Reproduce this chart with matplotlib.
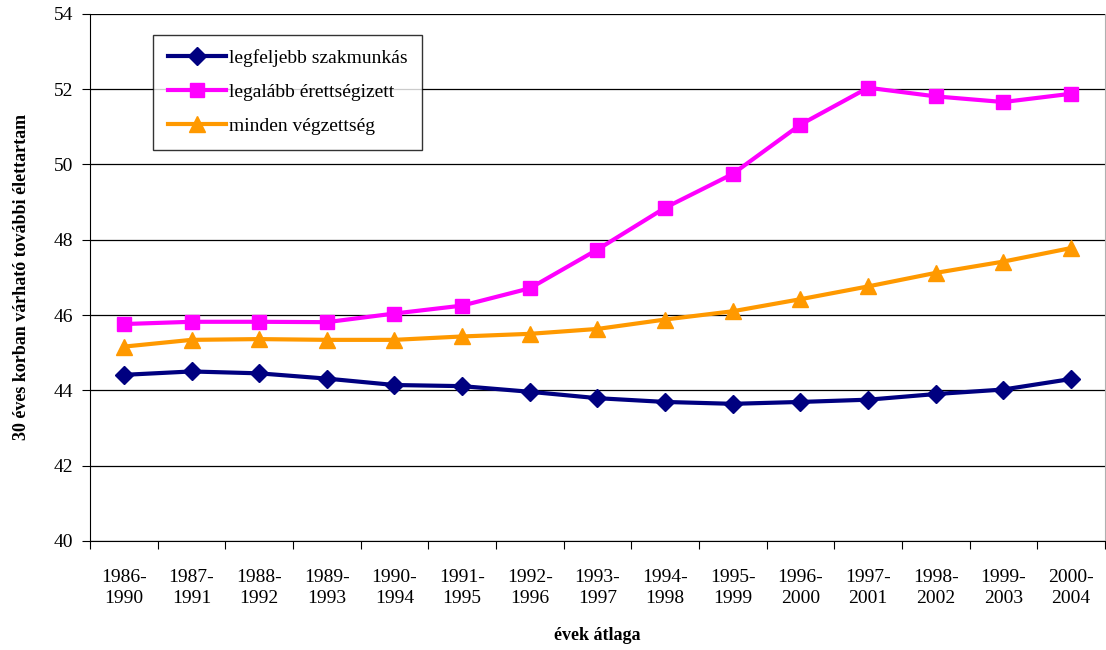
import matplotlib
matplotlib.use("Agg")
import matplotlib.pyplot as plt
import numpy as np

categories = ["1986-\n1990", "1987-\n1991", "1988-\n1992", "1989-\n1993", "1990-\n1994",
              "1991-\n1995", "1992-\n1996", "1993-\n1997", "1994-\n1998", "1995-\n1999",
              "1996-\n2000", "1997-\n2001", "1998-\n2002", "1999-\n2003", "2000-\n2004"]
szakmunkas = [44.41, 44.50, 44.45, 44.31, 44.14, 44.11, 43.96, 43.79, 43.69, 43.64,
              43.69, 43.75, 43.90, 44.02, 44.30]
erettsegi = [45.76, 45.82, 45.82, 45.81, 46.04, 46.25, 46.71, 47.74, 48.85, 49.75,
             51.06, 52.04, 51.81, 51.66, 51.88]
minden = [45.16, 45.34, 45.36, 45.34, 45.34, 45.43, 45.50, 45.63, 45.88, 46.10,
          46.42, 46.76, 47.12, 47.42, 47.78]

plt.rcParams["font.family"] = ["Liberation Serif", "DejaVu Serif"]

fig = plt.figure(figsize=(11.06, 6.5), dpi=100)
ax = fig.add_axes([0.0814, 0.168, 0.9176, 0.8105])

x = np.arange(len(categories))
ax.plot(x, szakmunkas, color="#000080", lw=3, marker="D", ms=9, label="legfeljebb szakmunkás", zorder=3)
ax.plot(x, erettsegi, color="#FF00FF", lw=3, marker="s", ms=10, label="legalább érettségizett", zorder=3)
ax.plot(x, minden, color="#FF9900", lw=3, marker="^", ms=11, label="minden végzettség", zorder=3)

ax.set_ylim(40, 54)
ax.set_xlim(-0.5, len(categories) - 0.5)
ax.set_yticks(np.arange(40, 55, 2))
ax.yaxis.grid(True, color="#000000", lw=0.9)
ax.set_axisbelow(True)

# category labels in the middle, ticks on the boundaries
ax.set_xticks(np.arange(-0.5, len(categories), 1.0))
ax.set_xticklabels([])
ax.set_xticks(x, minor=True)
ax.set_xticklabels(categories, minor=True, fontsize=14, linespacing=1.35)
ax.tick_params(axis="x", which="minor", length=0, pad=20)
ax.tick_params(axis="x", which="major", length=6, direction="out")
ax.tick_params(axis="y", length=6, direction="out", labelsize=14, pad=6)

ax.spines["top"].set_visible(False)
ax.spines["right"].set_color("#b0b0b0")
ax.spines["left"].set_color("black")
ax.spines["bottom"].set_color("black")

ax.set_ylabel("30 éves korban várható további élettartam", fontsize=13, fontweight="bold", labelpad=17)
ax.set_xlabel("évek átlaga", fontsize=13, fontweight="bold", labelpad=14)

leg = ax.legend(loc="upper left", bbox_to_anchor=(0.062, 0.961), borderaxespad=0,
                fontsize=14, frameon=True, fancybox=False, handlelength=3.0,
                labelspacing=0.85, borderpad=0.75, handletextpad=0.15)
leg.get_frame().set_edgecolor("black")
leg.get_frame().set_linewidth(1.0)

fig.savefig("out.png", dpi=100)
